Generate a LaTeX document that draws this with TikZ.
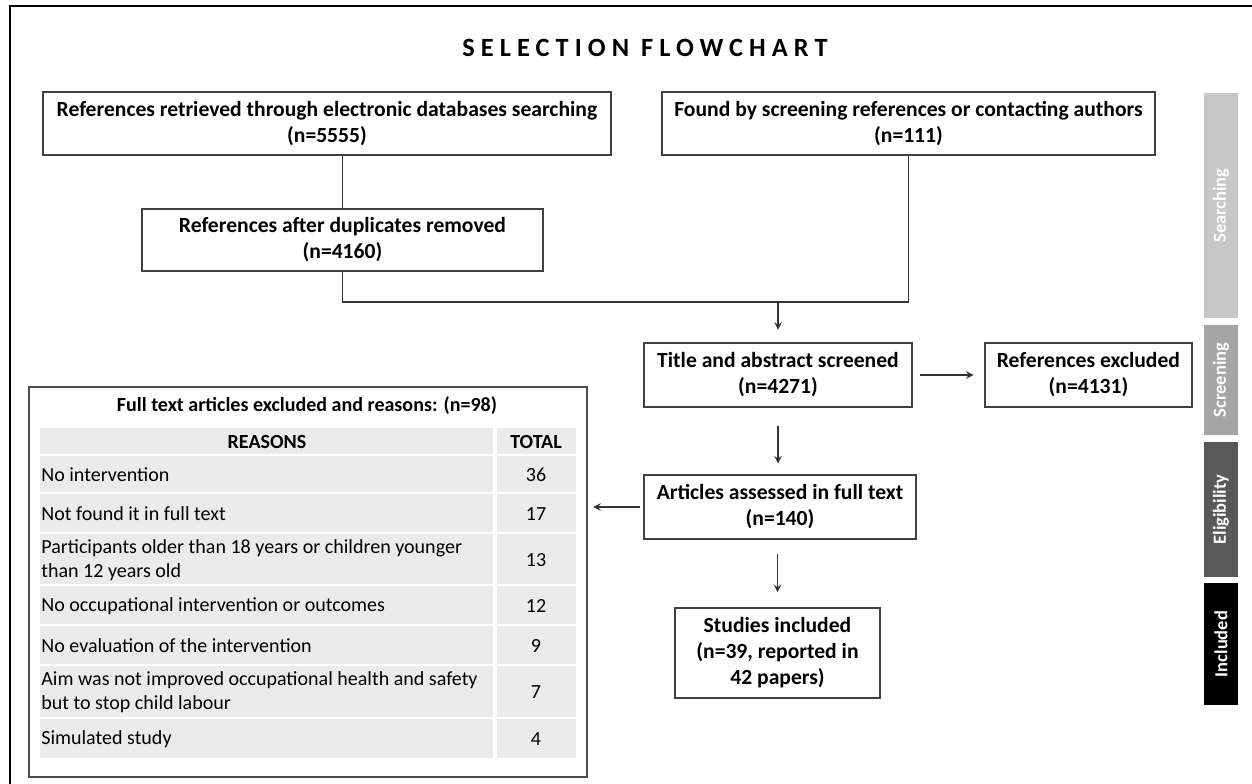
\documentclass[tikz,border=0pt]{standalone}
\usepackage{fontspec}
\setmainfont{Carlito}
\newfontfamily\titlefont[LetterSpace=23]{Carlito}
\usetikzlibrary{arrows}

\begin{document}
\begin{tikzpicture}[x=0.02cm, y=-0.02cm, >=stealth,
	box/.style={draw=black!75, line width=1.1pt, fill=white, align=center, inner sep=0pt, font=\fontsize{12.3}{14.8}\selectfont\bfseries},
	link/.style={draw=black!80, line width=0.9pt},
	reason/.style={anchor=west, align=left, inner sep=0pt, font=\fontsize{11.4}{13.7}\selectfont},
	total/.style={inner sep=0pt, font=\fontsize{11.4}{13.7}\selectfont},
	phase/.style={rotate=90, minimum height=0.68cm, inner sep=0pt, text=white, font=\fontsize{10.5}{12}\selectfont\bfseries}]
		\useasboundingbox (0,0) rectangle (1252,784);
		%frame
			\draw [line width=1.4pt] (10,6) rectangle (1270,800);
			\node [font=\titlefont\fontsize{15}{18}\selectfont\bfseries] (title) at (645,48) {SELECTION FLOWCHART};
		%searching
			\node [box, minimum width=11.36cm, minimum height=1.26cm] (refdb) at (327,123.5) {References retrieved through electronic databases searching\\(n=5555)};
			\node [box, minimum width=9.86cm, minimum height=1.26cm] (refother) at (908.5,123.5) {Found by screening references or contacting authors\\(n=111)};
			\node [box, minimum width=8.02cm, minimum height=1.24cm] (refdup) at (342.5,240) {References after duplicates removed\\(n=4160)};
			\coordinate (merge) at (778,302);
			\draw [link] (refdb.south -| refdup.north) to (refdup.north);
			\draw [link] (refdup.south) |- (merge) -| (refother.south);
		%screening
			\node [box, minimum width=5.36cm, minimum height=1.28cm] (screened) at (778,375) {Title and abstract screened\\(n=4271)};
			\node [box, minimum width=4.14cm, minimum height=1.28cm] (excluded) at (1088.5,375) {References excluded\\(n=4131)};
			\draw [link, ->, shorten >=7pt] (merge) to (merge |- screened.north);
			\draw [link, ->, shorten <=4pt, shorten >=6pt] (screened.east) to (excluded.west);
		%eligibility
			\node [box, minimum width=5.44cm, minimum height=1.28cm] (fulltext) at (780,507) {Articles assessed in full text\\(n=140)};
			\draw [link, ->, shorten <=10pt, shorten >=6pt] (screened.south) to (screened.south |- fulltext.north);
		%included
			\node [box, minimum width=4.1cm, minimum height=1.8cm] (included) at (777.5,653) {Studies included\\(n=39, reported in\\42 papers)};
			\draw [link, ->, shorten <=8pt, shorten >=8.5pt] (fulltext.south -| included.north) to (included.north);
		%table of exclusions
			\node [draw=black!70, line width=1.1pt, minimum width=11.16cm, minimum height=7.8cm] (exclusions) at (308,582) {};
			\draw [link, ->, shorten <=2pt, shorten >=3pt] (fulltext.west) to (fulltext.west -| exclusions.east);
			\node [font=\fontsize{11.4}{13}\selectfont\bfseries, inner sep=0pt] (tabtitle) at (307,406) {Full text articles excluded and reasons: (n=98)};
			%cells
			\fill [black!8] (40,428) rectangle (493,454);
			\fill [black!8] (497,428) rectangle (576,454);
			\fill [black!8] (40,456) rectangle (493,492);
			\fill [black!8] (497,456) rectangle (576,492);
			\fill [black!8] (40,494) rectangle (493,532);
			\fill [black!8] (497,494) rectangle (576,532);
			\fill [black!8] (40,534) rectangle (493,584);
			\fill [black!8] (497,534) rectangle (576,584);
			\fill [black!8] (40,586) rectangle (493,624);
			\fill [black!8] (497,586) rectangle (576,624);
			\fill [black!8] (40,626) rectangle (493,664);
			\fill [black!8] (497,626) rectangle (576,664);
			\fill [black!8] (40,666) rectangle (493,717);
			\fill [black!8] (497,666) rectangle (576,717);
			\fill [black!8] (40,719) rectangle (493,758);
			\fill [black!8] (497,719) rectangle (576,758);
			%rows
			\node [total, font=\fontsize{11.4}{13.7}\selectfont\bfseries] (headreason) at (267,442) {REASONS};
			\node [total, font=\fontsize{11.4}{13.7}\selectfont\bfseries] (headtotal) at (536,442) {TOTAL};
			\node [reason] (reasona) at (41,475) {No intervention};
			\node [total] (totala) at (536,475) {36};
			\node [reason] (reasonb) at (41,514) {Not found it in full text};
			\node [total] (totalb) at (536,514) {17};
			\node [reason] (reasonc) at (41,560) {Participants older than 18 years or children younger\\than 12 years old};
			\node [total] (totalc) at (536,560) {13};
			\node [reason] (reasond) at (41,606) {No occupational intervention or outcomes};
			\node [total] (totald) at (536,606) {12};
			\node [reason] (reasone) at (41,646) {No evaluation of the intervention};
			\node [total] (totale) at (536,646) {9};
			\node [reason] (reasonf) at (41,692.5) {Aim was not improved occupational health and safety\\but to stop child labour};
			\node [total] (totalf) at (536,692.5) {7};
			\node [reason] (reasong) at (41,739) {Simulated study};
			\node [total] (totalg) at (536,739) {4};
		%phases
			\node [phase, fill=black!22, minimum width=4.5cm] (searching) at (1221,205.5) {Searching};
			\node [phase, fill=black!35, minimum width=2.2cm] (screening) at (1221,380) {Screening};
			\node [phase, fill=black!65, minimum width=2.7cm] (eligibility) at (1221,509.5) {Eligibility};
			\node [phase, fill=black, minimum width=2.44cm] (inclusion) at (1221,644) {Included};
		\end{tikzpicture}
\end{document}
